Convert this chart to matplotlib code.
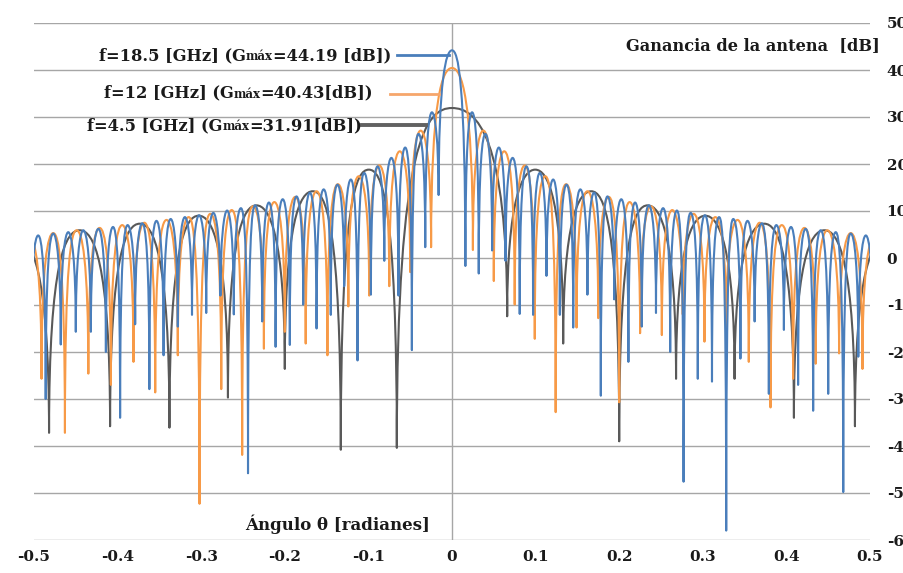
import matplotlib

matplotlib.use('Agg')
import matplotlib.pyplot as plt
from matplotlib.path import Path
from matplotlib.patches import PathPatch
from matplotlib.offsetbox import TextArea, HPacker, AnnotationBbox

# angles (rad) of the pattern nulls, inner -> outer
# (the last one of each list lies just outside the plotted range)
blue_nulls = [0.016, 0.032, 0.048, 0.064, 0.081, 0.097, 0.113, 0.129, 0.145, 0.162,
              0.178, 0.194, 0.211, 0.227, 0.244, 0.261, 0.277, 0.294, 0.311, 0.328,
              0.345, 0.362, 0.379, 0.397, 0.414, 0.432, 0.450, 0.468, 0.486, 0.504]
orange_nulls = [0.025, 0.050, 0.075, 0.099, 0.124, 0.149, 0.175, 0.200, 0.225, 0.251,
                0.276, 0.302, 0.328, 0.355, 0.381, 0.408, 0.435, 0.463, 0.491, 0.519]
gray_nulls = [0.066, 0.133, 0.200, 0.268, 0.338, 0.409, 0.482, 0.559]

# depth of each null [dB], left side (negative angles) and right side
blue_left = [13.4, 2.3, -19.6, -8, -0.6, -7.8, -21.8, -6, -12.1, -15,
             -9.9, -18.5, -18.9, -13.5, -45.8, -12, -8, -11.7, -12.1, -14.6,
             -20.7, -27.9, -14.1, -34, -20, -15.7, -15.7, -18.4, -30, -20]
blue_right = [-1.7, -3.3, 1.6, -0.6, -11.9, -12.1, -3.8, -12.1, -14.8, -7.8,
              -29.3, -8.8, -22.1, -14.6, -11.7, -20, -47.6, -25.7, -26.3, -58,
              -21.4, -13.5, -28.9, -15.3, -27, -32.5, -28.9, -49.8, -21, -20]
orange_left = [2.3, -3, -6, -8, -10.3, -20.7, -18.2, -15.7, -19.3, -41.9,
               -27.9, -52.3, -20.7, -28.6, -22.1, -27, -24.6, -37.2, -25.7, -20]
orange_right = [1.7, -4.9, -9.9, -17.2, -32.8, -14.8, -12.8, -30.7, -16, -16.4,
                -12, -17.8, -14.9, -22.1, -31.8, -25.7, -22.5, -20.3, -23.6, -20]
gray_left = [-40.4, -40.8, -23.6, -29.7, -36.1, -35.8, -37.2, -20]
gray_right = [-12.4, -18.2, -39, -25.7, -25.7, -34, -35.8, -20]

# main lobe maximum and side lobe peaks [dB], inner -> outer
gmax = [44.19, 40.43, 31.91]
blue_peaks = [31, 26.4, 23.5, 21.3, 19.5, 18.1, 16.7, 15.6, 14.6, 13.9,
              13.1, 12.5, 11.8, 11.2, 10.6, 10.1, 9.6, 9.1, 8.7, 8.3,
              7.9, 7.4, 7.0, 6.6, 6.2, 5.9, 5.5, 5.2, 4.8]
orange_peaks = [27.1, 22.7, 19.7, 17.4, 15.7, 14.2, 13.0, 11.9, 11.0, 10.2,
                9.4, 8.7, 8.1, 7.5, 7.0, 6.4, 5.9, 5.3, 4.2]
gray_peaks = [18.8, 14.2, 11.2, 9.0, 7.3, 5.9, 4.2]

freqs = ['18.5', '12', '4.5']
label_tail = ['=44.19 [dB])', '=40.43[dB])', '=31.91[dB])']
colors = ['#4a7ebb', '#f79a47', '#595959']
leader_colors = ['#4a7ebb', '#f6a66b', '#616161']

xticks = [-0.5, -0.4, -0.3, -0.2, -0.1, 0, 0.1, 0.2, 0.3, 0.4, 0.5]
xtick_labels = ['-0.5', '-0.4', '-0.3', '-0.2', '-0.1', '0', '0.1', '0.2', '0.3', '0.4', '0.5']
yticks = [50, 40, 30, 20, 10, 0, -10, -20, -30, -40, -50, -60]
ytick_labels = ['50', '40', '30', '20', '10', '0', '-10', '-20', '-30', '-40', '-50', '-60']

FONT = ['DejaVu Serif']
TXT = '#1a1a1a'


def pattern_path(nulls, left, right, peaks, g):
    # node list: null, peak, null, peak ... from left edge to right edge
    nodes = []
    for k in range(len(nulls) - 1, 0, -1):
        nodes.append(('n', -nulls[k], left[k]))
        nodes.append(('p', -(nulls[k] + nulls[k - 1]) / 2, peaks[k - 1]))
    nodes.append(('n', -nulls[0], left[0]))
    nodes.append(('p', 0.0, g))
    nodes.append(('n', nulls[0], right[0]))
    for k in range(1, len(nulls)):
        nodes.append(('p', (nulls[k] + nulls[k - 1]) / 2, peaks[k - 1]))
        nodes.append(('n', nulls[k], right[k]))

    verts = [(nodes[0][1], nodes[0][2])]
    codes = [Path.MOVETO]
    for a, b in zip(nodes[:-1], nodes[1:]):
        x0, y0 = a[1], a[2]
        x1, y1 = b[1], b[2]
        if a[0] == 'n':
            # rising from null to peak: vertical start, flat top
            c = min(6.0, y1 - y0)
            verts += [(x0, y1 - c), (x0 + 0.55 * (x1 - x0), y1), (x1, y1)]
        else:
            c = min(6.0, y0 - y1)
            verts += [(x0 + 0.45 * (x1 - x0), y0), (x1, y0 - c), (x1, y1)]
        codes += [Path.CURVE4] * 3
    return Path(verts, codes)


fig = plt.figure(figsize=(9.04, 5.73), dpi=100)
ax = fig.add_axes([34 / 904, 33 / 573, 836 / 904, 517 / 573])
ax.set_xlim(-0.5, 0.5)
ax.set_ylim(-60, 50)

for sp in ax.spines.values():
    sp.set_visible(False)
for y in yticks:
    ax.axhline(y, color='#a6a6a6', lw=1.0, zorder=0)
ax.axvline(0, color='#a6a6a6', lw=1.0, zorder=0)

series = [
    (gray_nulls, gray_left, gray_right, gray_peaks, gmax[2], colors[2]),
    (orange_nulls, orange_left, orange_right, orange_peaks, gmax[1], colors[1]),
    (blue_nulls, blue_left, blue_right, blue_peaks, gmax[0], colors[0]),
]
for i, (nl, lf, rt, pk, g, col) in enumerate(series):
    p = pattern_path(nl, lf, rt, pk, g)
    ax.add_patch(PathPatch(p, fill=False, edgecolor=col, lw=1.5,
                           joinstyle='round', capstyle='round', zorder=2 + i))

# leader lines from the labels to the curves
ax.plot([-0.066, -0.003], [43.2, 43.2], color=leader_colors[0], lw=2.0, zorder=6)
ax.plot([-0.074, -0.016], [34.9, 34.9], color=leader_colors[1], lw=2.0, zorder=6)
ax.plot([-0.108, -0.031], [28.4, 28.4], color=leader_colors[2], lw=2.8, zorder=6)

# series labels, "máx" set smaller
label_pos = [(99, 573 - 56), (104, 573 - 93), (87, 573 - 126)]
for i in range(3):
    big = dict(fontfamily=FONT, fontweight='bold', fontsize=11.7, color=TXT)
    small = dict(fontfamily=FONT, fontweight='bold', fontsize=8.5, color=TXT)
    box = HPacker(children=[TextArea('f=' + freqs[i] + ' [GHz] (G', textprops=big),
                            TextArea('máx', textprops=small),
                            TextArea(label_tail[i], textprops=big)],
                  align='baseline', pad=0, sep=0)
    ab = AnnotationBbox(box, label_pos[i], xycoords='figure pixels',
                        box_alignment=(0, 0.5), frameon=False, pad=0)
    fig.add_artist(ab)

fig.text(880 / 904, 1 - 46 / 573, 'Ganancia de la antena  [dB]', ha='right', va='center',
         fontfamily=FONT, fontweight='bold', fontsize=11.7, color=TXT)
fig.text(338 / 904, 1 - 524 / 573, 'Ángulo θ [radianes]', ha='center', va='center',
         fontfamily=FONT, fontweight='bold', fontsize=12, color=TXT)

ax.set_xticks(xticks)
ax.set_xticklabels(xtick_labels)
ax.set_yticks(yticks)
ax.set_yticklabels(ytick_labels)
ax.yaxis.tick_right()
ax.tick_params(axis='x', length=0, pad=7)
ax.tick_params(axis='y', length=0, pad=12)
for lab in ax.get_xticklabels() + ax.get_yticklabels():
    lab.set_fontfamily(FONT)
    lab.set_fontweight('bold')
    lab.set_fontsize(11)
    lab.set_color(TXT)

fig.savefig('out.png', dpi=100)
